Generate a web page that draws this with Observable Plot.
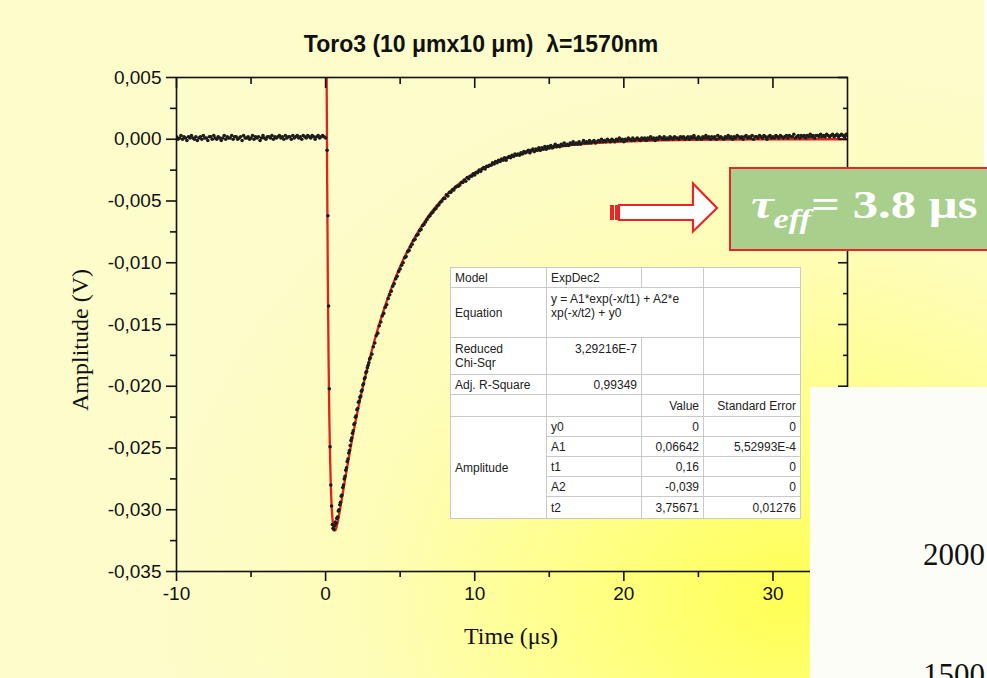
<!DOCTYPE html>
<html>
<head>
<meta charset="utf-8">
<script src="https://cdn.jsdelivr.net/npm/d3@7"></script>
<script src="https://cdn.jsdelivr.net/npm/@observablehq/plot@0.6"></script>
<style>
  html, body { margin: 0; padding: 0; }
  body {
    width: 987px; height: 678px; overflow: hidden; position: relative;
    background: radial-gradient(ellipse 640px 540px at 790px 600px, #ffff55 0%, #ffff88 33%, #fefdb8 66%, #fdfccb 100%);
    font-family: "Liberation Sans", Arial, sans-serif; color: #111;
  }
  #chart { position: absolute; left: 0; top: 0; }
  .title { position: absolute; left: 0; width: 962px; top: 31px; text-align: center;
           font-weight: bold; font-size: 23px; white-space: pre; }
  .ylabel { position: absolute; left: 80px; top: 340px; transform: translate(-50%, -50%) rotate(-90deg);
            font-family: "Liberation Serif", "Times New Roman", serif; font-size: 24px; white-space: nowrap; }
  .xlabel { position: absolute; left: 511px; top: 636px; transform: translate(-50%, -50%);
            font-family: "Liberation Serif", "Times New Roman", serif; font-size: 24px; white-space: nowrap; }
  table.fit { position: absolute; left: 450px; top: 267px; width: 350px; border-collapse: collapse;
              table-layout: fixed; background: #fff; font-size: 12px; color: #222; border: 1px solid #8f8f8f; }
  table.fit td { border: 1px solid #c9c9c9; padding: 0 4px; line-height: 14px; overflow: visible; white-space: nowrap; }
  table.fit td.r { text-align: right; }
  table.fit td.top { vertical-align: top; padding-top: 4px; }
  .panel { position: absolute; left: 810px; top: 387px; width: 177px; height: 291px; background: #fdfdf8; }
  .panel .num { position: absolute; right: 2px; font-family: "Liberation Serif", "Times New Roman", serif;
                font-size: 31px; color: #111; }
  .tau { position: absolute; left: 729px; top: 167px; width: 270px; height: 80px; background: #a9cf8d;
         border: 2px solid #e8262a; box-sizing: content-box; }
  .tau span.t { position: absolute; left: 20px; top: 12px; white-space: nowrap; color: #fff;
                font-family: "Liberation Serif", "Times New Roman", serif; font-weight: bold; font-size: 40px;
                transform: scaleX(1.27); transform-origin: 0 50%; }
  .edge { position: absolute; left: 984px; top: 0; width: 3px; height: 167px; background: #fff; }
</style>
</head>
<body>
<div id="chart"></div>
<div class="title">Toro3 (10 μmx10 μm)  λ=1570nm</div>
<div class="ylabel">Amplitude (V)</div>
<div class="xlabel">Time (μs)</div>
<div id="fitTable"></div>
<svg id="arrow" width="987" height="678" style="position:absolute;left:0;top:0;pointer-events:none">
  <rect x="610" y="205" width="4" height="15" fill="#e8262a"/>
  <rect x="615" y="205" width="3" height="15" fill="#e8262a"/>
  <path d="M619,205 H693 V183.5 L717,208 L693,231.5 V220 H619 Z" fill="#fff" stroke="#e8262a" stroke-width="2.2" stroke-linejoin="miter"/>
</svg>
<div class="tau"><span class="t"><i>τ</i><sub style="font-size:27px;font-style:italic;vertical-align:-10px">eff</sub>= 3.8 μs</span></div>
<div class="edge"></div>
<div class="panel">
  <div class="num" style="top:150px">2000</div>
  <div class="num" style="top:270px">1500</div>
</div>
<script>
// Pump–probe transient at 1570 nm, amplitude in mV.
// Each trace segment starts at a time (µs) and is sampled at a fixed step (µs).
const baselineAmp = [
  0.2, 0.0, 0.1, 0.3, 0.0, 0.2, 0.1, -0.1, 0.2, 0.1,
  0.3, 0.1, 0.0, 0.2, -0.1, 0.1, 0.2, 0.0, 0.3, 0.1,
  0.1, -0.1, 0.2, 0.2, 0.0, 0.3, 0.1, 0.0, 0.2, 0.1,
  -0.1, 0.1, 0.3, 0.0, 0.2, 0.1, 0.1, 0.3, 0.0, 0.2,
  0.2, 0.0, 0.1, 0.2, -0.1, 0.3, 0.1, 0.1, 0.2, 0.0,
  0.1, 0.3, 0.0, 0.2, 0.1, 0.2, -0.1, 0.1, 0.3, 0.1,
  0.0, 0.2, 0.2, 0.1, 0.3, 0.0, 0.2, 0.1, 0.2, 0.3,
  0.1, 0.2, 0.0, 0.3, 0.1, 0.2, 0.2, 0.0, 0.3, 0.1,
  0.2, 0.3, 0.1, 0.2, 0.0, 0.3, 0.2, 0.1, 0.3, 0.2,
  0.1, 0.3, 0.2, 0.0, 0.2, 0.3, 0.1, 0.2, 0.3, 0.2,
  0.1
];
const fallAmp = [-0.9, -6.2, -13.5, -20.2, -24.9, -28.0, -29.7, -31.2];
const minimumAmp = [
  -31.5, -31.6, -31.3, -31.0, -31.1, -30.7, -30.6, -30.1, -30.0, -29.6,
  -29.4, -28.9, -28.8, -28.2, -28.0, -27.5, -27.3, -26.8, -26.6, -26.1,
  -25.9, -25.4, -25.2, -24.8, -24.4, -24.2, -23.8, -23.6, -23.1, -23.0,
  -22.5, -22.4, -21.9, -21.8, -21.3, -21.2, -20.9, -20.8, -20.4, -20.3,
  -19.9, -19.8, -19.4, -19.3, -18.9, -18.8, -18.5, -18.3, -18.1, -17.8
];
const decayAmp = [
  -17.7, -17.4, -16.8, -16.5, -15.9, -15.7, -15.1, -14.8, -14.3, -14.1,
  -13.6, -13.4, -12.9, -12.6, -12.3, -11.9, -11.7, -11.3, -11.1, -10.7,
  -10.5, -10.2, -10.0, -9.6, -9.5, -9.1, -9.0, -8.7, -8.5, -8.2,
  -8.1, -7.8, -7.7, -7.4, -7.3, -7.0, -6.9, -6.7, -6.5, -6.3,
  -6.2, -6.0, -5.9, -5.7, -5.6, -5.4, -5.3, -5.1, -5.0, -4.8
];
const tailAmp = [
  -4.8, -4.5, -4.6, -4.3, -4.3, -4.1, -4.1, -3.9, -3.8, -3.8,
  -3.7, -3.5, -3.5, -3.3, -3.4, -3.1, -3.2, -3.0, -3.0, -2.8,
  -2.9, -2.7, -2.7, -2.5, -2.6, -2.4, -2.3, -2.4, -2.2, -2.2,
  -2.1, -2.1, -1.9, -2.0, -1.8, -1.9, -1.7, -1.8, -1.6, -1.7,
  -1.5, -1.7, -1.5, -1.4, -1.5, -1.3, -1.4, -1.2, -1.3, -1.2,
  -1.3, -1.1, -1.2, -1.0, -1.1, -1.0, -0.9, -1.1, -0.9, -0.8,
  -1.0, -0.8, -0.9, -0.7, -0.9, -0.7, -0.8, -0.6, -0.8, -0.6,
  -0.7, -0.5, -0.7, -0.6, -0.4, -0.6, -0.5, -0.6, -0.4, -0.5,
  -0.3, -0.5, -0.4, -0.5, -0.3, -0.4, -0.2, -0.4, -0.3, -0.4,
  -0.2, -0.4, -0.3, -0.1, -0.3, -0.2, -0.3, -0.1, -0.3, -0.2,
  -0.1, -0.3, -0.2, -0.1, -0.2, 0.0, -0.2, -0.1, -0.2, 0.0,
  -0.1, -0.2, 0.0, -0.1, -0.2, 0.0, -0.1, 0.1, -0.1, 0.0,
  -0.2, 0.0, -0.1, 0.1, 0.0, -0.1, 0.1, -0.1, 0.0, 0.1,
  0.0, -0.1, 0.1, 0.0, 0.1, -0.1, 0.1, 0.0, 0.2, 0.0,
  0.1, -0.1, 0.1, 0.0, 0.2, 0.1, 0.0, 0.2, 0.0, 0.1,
  0.0, 0.2, 0.1, 0.0, 0.2, 0.1, 0.1, 0.0, 0.2, 0.1,
  0.2, 0.0, 0.1, 0.2, 0.0, 0.2, 0.1, 0.3, 0.1, 0.0,
  0.2, 0.1, 0.0, 0.2, 0.1, 0.3, 0.1, 0.2, 0.0, 0.2,
  0.1, 0.2, 0.0, 0.3, 0.1, 0.2, 0.1, 0.0, 0.2, 0.1,
  0.3, 0.1, 0.2, 0.0, 0.2, 0.1, 0.3, 0.2, 0.1, 0.2,
  0.0, 0.2, 0.3, 0.1, 0.2, 0.1, 0.3, 0.0, 0.2, 0.2,
  0.1, 0.3, 0.2, 0.1, 0.3, 0.2, 0.0, 0.2, 0.3, 0.1,
  0.2, 0.1, 0.3, 0.2, 0.1, 0.3, 0.2, 0.1, 0.2, 0.3,
  0.1, 0.3, 0.2, 0.2, 0.4, 0.1, 0.2, 0.3, 0.1, 0.3,
  0.2, 0.3, 0.1, 0.3, 0.2, 0.4, 0.2, 0.3, 0.1, 0.3,
  0.3, 0.2, 0.4, 0.2, 0.3, 0.2, 0.4, 0.3, 0.2, 0.3,
  0.4, 0.2, 0.3, 0.4, 0.2, 0.3, 0.4, 0.3, 0.2, 0.4,
  0.3
];
const segments = [
  { start: -10, step: 0.1, amps: baselineAmp },
  { start: 0.1, step: 0.05, amps: fallAmp },
  { start: 0.5, step: 0.05, amps: minimumAmp },
  { start: 3.0, step: 0.1, amps: decayAmp },
  { start: 8.0, step: 0.1, amps: tailAmp }
];

// ExpDec2 fit curve (mV) at selected times (µs)
const fitTime = [0, 0.05, 0.1, 0.15, 0.2, 0.25, 0.3, 0.35, 0.4, 0.45, 0.5, 0.55, 0.6, 0.65, 0.7, 0.8, 0.9,
  1.0, 1.2, 1.4, 1.6, 1.8, 2.0, 2.5, 3.0, 3.5, 4.0, 4.5, 5.0, 5.5, 6.0, 7.0, 8.0, 9.0,
  10, 11, 12, 13, 14, 15, 16, 18, 20, 22, 25, 30, 35];
const fitAmp = [27.4, 10.1, -2.5, -11.5, -17.9, -22.6, -25.8, -28.1, -29.6, -30.6, -31.22, -31.55, -31.69, -31.66, -31.54, -31.08, -30.45,
  -29.76, -28.30, -26.87, -25.48, -24.15, -22.90, -20.05, -17.55, -15.36, -13.45, -11.77, -10.30, -9.02, -7.90, -6.05, -4.64, -3.55,
  -2.72, -2.09, -1.60, -1.23, -0.94, -0.72, -0.55, -0.32, -0.19, -0.11, -0.05, -0.01, 0.0];

// Fit report
const reportModel = "ExpDec2";
const reportEquation = ["y = A1*exp(-x/t1) + A2*e", "xp(-x/t2) + y0"];
const reportChiSqr = "3,29216E-7";
const reportR2 = "0,99349";
const paramNames = ["y0", "A1", "t1", "A2", "t2"];
const paramValues = ["0", "0,06642", "0,16", "-0,039", "3,75671"];
const paramErrors = ["0", "5,52993E-4", "0", "0", "0,01276"];

// Axis ticks
const xMajor = [-10, 0, 10, 20, 30];
const xMinor = [-5, 5, 15, 25];
const yMajor = [0.005, 0, -0.005, -0.010, -0.015, -0.020, -0.025, -0.030, -0.035];
const yMinor = [0.0025, -0.0025, -0.0075, -0.0125, -0.0175, -0.0225, -0.0275, -0.0325];

const trace = segments.flatMap(({start, step, amps}) =>
  amps.map((mV, i) => ({time: +(start + i * step).toFixed(3), amplitude: mV / 1000})));
const fit = fitTime.map((t, i) => ({time: t, amplitude: fitAmp[i] / 1000}));

const commaFmt = d => d.toFixed(3).replace(".", ",");
const ink = "#111";

const chart = Plot.plot({
  width: 987,
  height: 678,
  marginLeft: 176,
  marginRight: 140,
  marginTop: 77,
  marginBottom: 107,
  x: {domain: [-10, 35]},
  y: {domain: [-0.035, 0.005]},
  style: {background: "transparent", fontFamily: "'Liberation Sans', Arial, sans-serif", fontSize: "19px", color: ink},
  marks: [
    Plot.line(fit, {x: "time", y: "amplitude", stroke: "#e3221c", strokeWidth: 2.3, curve: "monotone-x", clip: true}),
    Plot.dot(trace, {x: "time", y: "amplitude", r: 1.8, fill: "#1c1c1c", stroke: "none", clip: true}),
    Plot.frame({stroke: ink, strokeWidth: 1.6}),
    // left: outward ticks with labels
    Plot.axisY({anchor: "left", ticks: yMajor, tickSize: 10, tickPadding: 5, tickFormat: commaFmt, label: null, strokeWidth: 1.6}),
    Plot.axisY({anchor: "left", ticks: yMinor, tickSize: 6, fill: "none", label: null, strokeWidth: 1.6}),
    // right: inward ticks
    Plot.axisY({anchor: "right", ticks: yMajor, tickSize: 10, dx: -10, fill: "none", label: null, strokeWidth: 1.6}),
    Plot.axisY({anchor: "right", ticks: yMinor, tickSize: 5, dx: -5, fill: "none", label: null, strokeWidth: 1.6}),
    // bottom: outward ticks with labels
    Plot.axisX({anchor: "bottom", ticks: xMajor, tickSize: 10, tickPadding: 5, tickFormat: d => String(d), label: null, strokeWidth: 1.6}),
    Plot.axisX({anchor: "bottom", ticks: xMinor, tickSize: 6, fill: "none", label: null, strokeWidth: 1.6}),
    // top: inward ticks
    Plot.axisX({anchor: "top", ticks: xMajor, tickSize: 10, dy: 10, fill: "none", label: null, strokeWidth: 1.6}),
    Plot.axisX({anchor: "top", ticks: xMinor, tickSize: 6, dy: 6, fill: "none", label: null, strokeWidth: 1.6})
  ]
});
document.getElementById("chart").appendChild(chart);

// Fit report table
const rowH = [20, 50, 37, 20, 22, 20, 20, 20, 20, 22];
let html = `<table class="fit"><colgroup><col style="width:96px"><col style="width:95px"><col style="width:62px"><col style="width:97px"></colgroup>`;
html += `<tr style="height:${rowH[0]}px"><td>Model</td><td>${reportModel}</td><td></td><td></td></tr>`;
html += `<tr style="height:${rowH[1]}px"><td>Equation</td><td class="top" colspan="2">${reportEquation.join("<br>")}</td><td></td></tr>`;
html += `<tr style="height:${rowH[2]}px"><td class="top">Reduced<br>Chi-Sqr</td><td class="r top">${reportChiSqr}</td><td></td><td></td></tr>`;
html += `<tr style="height:${rowH[3]}px"><td>Adj. R-Square</td><td class="r">${reportR2}</td><td></td><td></td></tr>`;
html += `<tr style="height:${rowH[4]}px"><td></td><td></td><td class="r">Value</td><td class="r">Standard Error</td></tr>`;
paramNames.forEach((p, i) => {
  html += `<tr style="height:${rowH[5 + i]}px">` +
    (i === 0 ? `<td rowspan="${paramNames.length}">Amplitude</td>` : "") +
    `<td>${p}</td><td class="r">${paramValues[i]}</td><td class="r">${paramErrors[i]}</td></tr>`;
});
html += `</table>`;
document.getElementById("fitTable").innerHTML = html;
</script>
</body>
</html>
